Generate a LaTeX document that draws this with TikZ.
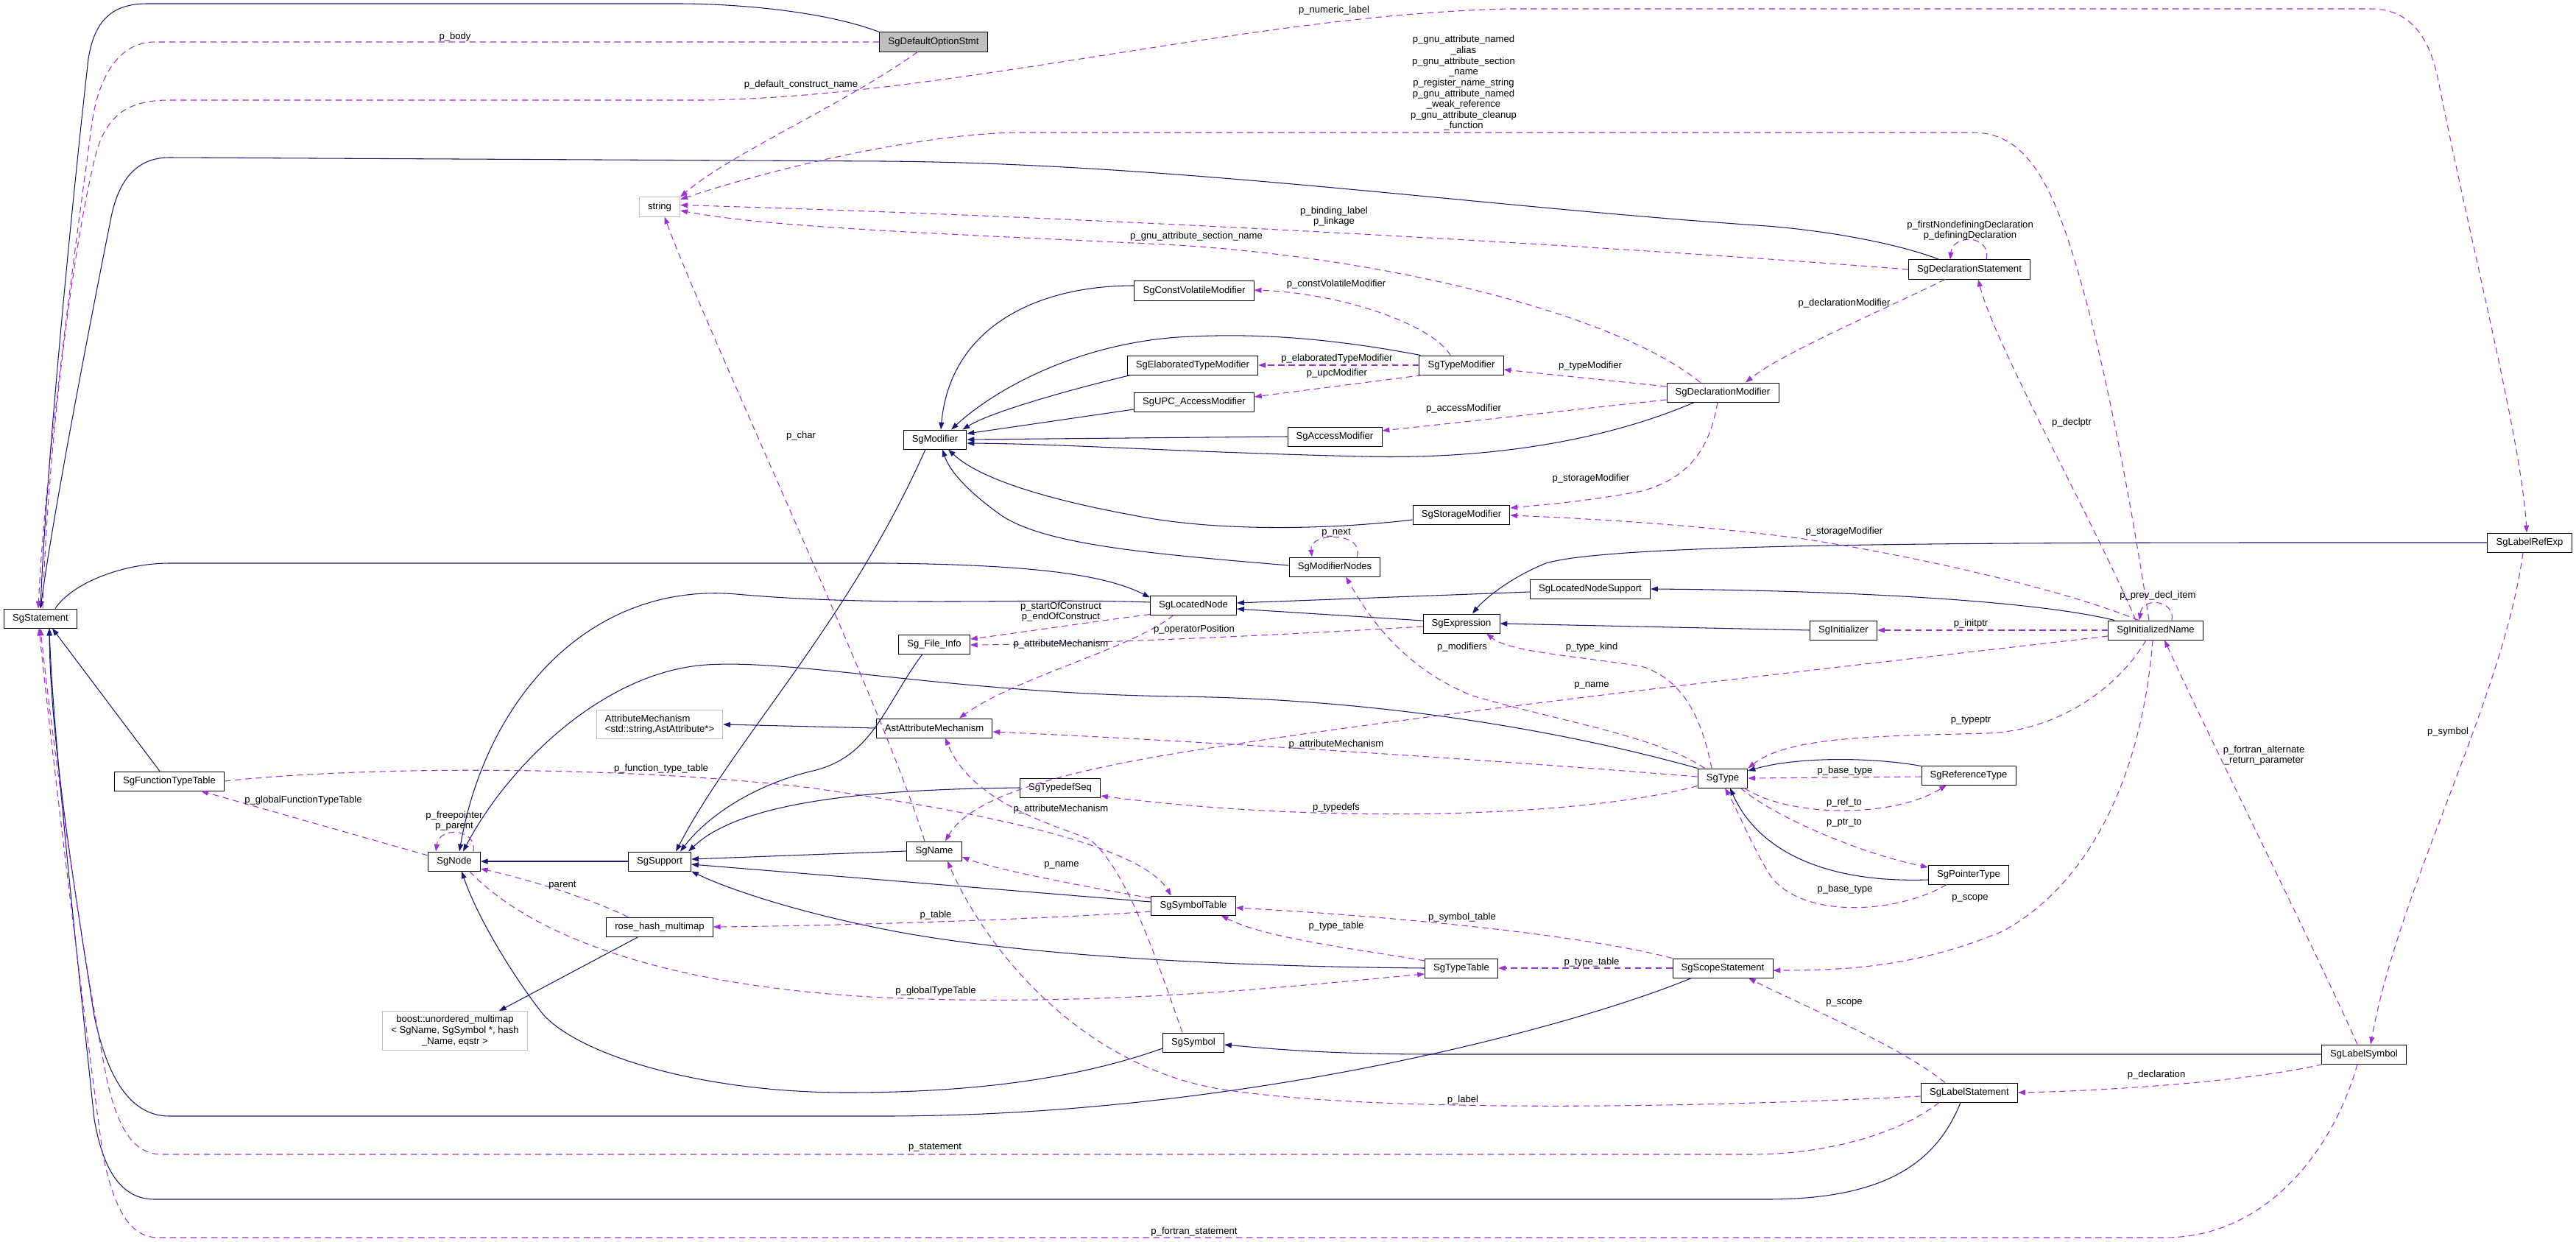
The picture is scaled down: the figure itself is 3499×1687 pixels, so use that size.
\documentclass[tikz,border=0pt]{standalone}
\usepackage{fontspec}
\setmainfont{Liberation Sans}
\usepackage{tikz}
\usetikzlibrary{arrows.meta,calc}
\definecolor{inhcol}{HTML}{191970}
\definecolor{depcol}{HTML}{9A32CD}
\newcommand\fsz{\fontsize{9.3}{10.4}\selectfont}

\begin{document}
\begin{tikzpicture}[x=0.025cm, y=-0.025cm,
    cls/.style={draw=black, fill=white, font=\fsz, inner xsep=8.3pt, inner ysep=2pt, minimum height=18.5pt, line width=0.7pt},
    ext/.style={cls, draw=black!25, align=left, inner ysep=4pt},
    root/.style={cls, fill=black!25},
    lbl/.style={font=\fsz, inner sep=0pt, align=center},
    inh/.style={draw=inhcol, line width=0.75pt, -{Triangle[length=7pt,width=5pt]}},
    dep/.style={draw=depcol, line width=0.75pt, dash pattern=on 6pt off 4pt, -{Triangle[length=7pt,width=5pt]}}]
    \path[use as bounding box, fill=white] (0,0) rectangle (3499,1687);
    % классы
    \node[root] (defopt) at (1268,57) {SgDefaultOptionStmt};
    \node[ext] (str) at (896,281) {string};
    \node[cls] (stmt) at (55,840) {SgStatement};
    \node[cls] (declstmt) at (2675,366) {SgDeclarationStatement};
    \node[cls] (cvmod) at (1622,395) {SgConstVolatileModifier};
    \node[cls] (elabmod) at (1620,496) {SgElaboratedTypeModifier};
    \node[cls] (upcmod) at (1622,546) {SgUPC\_AccessModifier};
    \node[cls] (typemod) at (1985,496) {SgTypeModifier};
    \node[cls] (declmod) at (2340,533) {SgDeclarationModifier};
    \node[cls] (modifier) at (1270,597) {SgModifier};
    \node[cls] (accmod) at (1813,593) {SgAccessModifier};
    \node[cls] (stormod) at (1985,699) {SgStorageModifier};
    \node[cls] (modnodes) at (1813,770) {SgModifierNodes};
    \node[cls] (locnode) at (1621,822) {SgLocatedNode};
    \node[cls] (locsup) at (2160,800) {SgLocatedNodeSupport};
    \node[cls] (expr) at (1985,847) {SgExpression};
    \node[cls] (fileinfo) at (1269,875) {Sg\_File\_Info};
    \node[cls] (astattr) at (1269,989) {AstAttributeMechanism};
    \node[ext] (attrmech) at (896,984) {AttributeMechanism\\<std::string,AstAttribute*>};
    \node[cls] (ftt) at (230,1061) {SgFunctionTypeTable};
    \node[cls] (sgnode) at (617,1170) {SgNode};
    \node[cls] (support) at (896,1170) {SgSupport};
    \node[cls] (sgname) at (1269,1156) {SgName};
    \node[cls] (typedefseq) at (1440,1070) {SgTypedefSeq};
    \node[cls] (symtab) at (1621,1230) {SgSymbolTable};
    \node[cls] (typetab) at (1985,1315) {SgTypeTable};
    \node[cls] (scope) at (2340,1315) {SgScopeStatement};
    \node[cls] (sgsymbol) at (1621,1416) {SgSymbol};
    \node[cls] (rosehash) at (896,1259) {rose\_hash\_multimap};
    \node[ext, align=center] (boostmap) at (618,1400) {boost::unordered\_multimap\\< SgName, SgSymbol *, hash\\\_Name, eqstr >};
    \node[cls] (sgtype) at (2340,1057) {SgType};
    \node[cls] (reftype) at (2674,1053) {SgReferenceType};
    \node[cls] (ptrtype) at (2674,1188) {SgPointerType};
    \node[cls] (initname) at (2928,856) {SgInitializedName};
    \node[cls] (initializer) at (2504,856) {SgInitializer};
    \node[cls] (labelref) at (3436,737) {SgLabelRefExp};
    \node[cls] (labelsym) at (3211,1432) {SgLabelSymbol};
    \node[cls] (labelstmt) at (2675,1484) {SgLabelStatement};
    % наследование
    \draw[inh] (defopt.north west) .. controls (1120,15) and (1000,5) .. (920,5) -- (200,5) .. controls (150,5) and (128,30) .. (120,80) .. controls (95,300) and (62,650) .. (stmt.north);
    \draw[inh] ($(declstmt.north west)+(42,0)$) .. controls (2590,335) and (2500,315) .. (2400,307) .. controls (2000,280) and (1600,222) .. (1200,219) -- (230,214) .. controls (185,214) and (160,245) .. (150,300) .. controls (120,450) and (72,700) .. (stmt.north);
    \draw[inh] ($(stmt.north east)+(-30,0)$) .. controls (100,790) and (170,765) .. (230,765) -- (1200,765) .. controls (1400,767) and (1500,780) .. ($(locnode.north west)+(0,3)$);
    \draw[inh] ($(ftt.north)+(-13,0)$) -- ($(stmt.south east)+(-34,0)$);
    \draw[inh] ($(scope.south west)+(26,0)$) .. controls (2150,1390) and (1700,1516) .. (1200,1516) -- (230,1516) .. controls (175,1516) and (145,1460) .. (128,1380) .. controls (100,1200) and (68,1000) .. ($(stmt.south)+(12,0)$);
    \draw[inh] ($(labelstmt.south)+(-12,0)$) .. controls (2630,1580) and (2560,1629) .. (2400,1629) -- (210,1629) .. controls (165,1629) and (140,1590) .. (128,1520) .. controls (105,1300) and (72,1000) .. ($(stmt.south)+(12,0)$);
    \draw[inh] ($(cvmod.west)+(0,-7)$) .. controls (1400,388) and (1290,450) .. ($(modifier.north)+(8,0)$);
    \draw[inh] ($(typemod.north west)+(2,0)$) .. controls (1800,458) and (1700,452) .. (1600,458) .. controls (1460,468) and (1350,530) .. ($(modifier.north)+(22,0)$);
    \draw[inh] ($(elabmod.south west)+(5,0)$) .. controls (1450,530) and (1345,560) .. ($(modifier.north east)+(-6,0)$);
    \draw[inh] ($(upcmod.west)+(0,10)$) -- ($(modifier.east)+(0,-8)$);
    \draw[inh] (accmod.west) -- (modifier.east);
    \draw[inh] ($(declmod.south west)+(38,0)$) .. controls (2200,590) and (2050,625) .. (1850,620) .. controls (1600,614) and (1450,603) .. ($(modifier.east)+(0,5)$);
    \draw[inh] ($(stormod.west)+(0,7)$) .. controls (1800,720) and (1650,722) .. (1540,700) .. controls (1420,678) and (1330,650) .. ($(modifier.south)+(18,0)$);
    \draw[inh] ($(modnodes.west)+(0,-2)$) .. controls (1560,752) and (1420,740) .. (1360,700) .. controls (1315,668) and (1290,640) .. ($(modifier.south)+(10,0)$);
    \draw[inh] ($(modifier.south)+(-13,0)$) .. controls (1150,850) and (1000,1000) .. ($(support.north)+(22,0)$);
    \draw[inh] ($(fileinfo.south)+(-16,0)$) .. controls (1200,960) and (1185,1030) .. (1100,1048) .. controls (1020,1068) and (960,1110) .. ($(support.north)+(28,0)$);
    \draw[inh] (typedefseq.west) .. controls (1200,1072) and (1010,1085) .. ($(support.north east)+(-4,0)$);
    \draw[inh] (astattr.west) -- (attrmech.east);
    \draw[inh] (sgname.west) -- ($(support.east)+(0,-3)$);
    \draw[inh] ($(symtab.west)+(0,-5)$) -- ($(support.east)+(0,4)$);
    \draw[inh] (typetab.west) .. controls (1600,1312) and (1350,1292) .. (1200,1262) .. controls (1080,1238) and (990,1208) .. (support.south east);
    \draw[inh] (support.west) -- (sgnode.east);
    \draw[inh] ($(locnode.west)+(0,-4)$) .. controls (1400,812) and (1200,825) .. (1000,807) .. controls (800,790) and (660,950) .. ($(sgnode.north)+(7,0)$);
    \draw[inh] (sgtype.north west) .. controls (2150,1000) and (1900,950) .. (1600,946) .. controls (1300,942) and (1080,895) .. (960,903) .. controls (820,912) and (690,1040) .. ($(sgnode.north)+(12,0)$);
    \draw[inh] ($(sgsymbol.west)+(0,8)$) .. controls (1450,1470) and (1300,1484) .. (1150,1484) .. controls (950,1484) and (785,1432) .. (737,1377) .. controls (700,1330) and (650,1250) .. ($(sgnode.south)+(10,0)$);
    \draw[inh] ($(rosehash.south west)+(44,0)$) -- ($(boostmap.north east)+(-39,0)$);
    \draw[inh] ($(expr.west)+(0,-4)$) -- ($(locnode.east)+(0,5)$);
    \draw[inh] ($(locsup.west)+(0,4)$) -- ($(locnode.east)+(0,-3)$);
    \draw[inh] ($(initname.north west)+(9,0)$) .. controls (2760,815) and (2500,802) .. (locsup.east);
    \draw[inh] (initializer.west) -- (expr.east);
    \draw[inh] (labelref.west) .. controls (2800,737) and (2200,735) .. (2100,765) .. controls (2050,785) and (2015,815) .. ($(expr.north)+(15,0)$);
    \draw[inh] ($(reftype.north west)+(0,1)$) .. controls (2540,1028) and (2440,1028) .. ($(sgtype.east)+(0,-10)$);
    \draw[inh] ($(ptrtype.west)+(0,7)$) .. controls (2470,1200) and (2385,1150) .. ($(sgtype.south)+(10,0)$);
    \draw[inh] (labelsym.west) -- (1950,1432) .. controls (1800,1432) and (1720,1424) .. ($(sgsymbol.east)+(0,3)$);
    % члены классов
    \draw[dep] (defopt.west) -- (210,57) .. controls (170,57) and (138,90) .. (126,160) .. controls (100,350) and (60,650) .. ($(stmt.north)+(-3,0)$);
    \draw[dep] ($(defopt.south west)+(52,0)$) .. controls (1150,140) and (990,210) .. (str.north east);
    \draw[dep] ($(stmt.north)+(3,0)$) .. controls (65,600) and (100,330) .. (130,210) .. controls (145,155) and (175,136) .. (230,136) -- (960,136) .. controls (1300,130) and (1700,20) .. (2050,12) -- (3220,12) .. controls (3280,12) and (3302,60) .. (3312,110) .. controls (3360,350) and (3425,600) .. ($(labelref.north)+(-4,0)$);
    \draw[dep] ($(initname.north)+(-9,0)$) .. controls (2890,650) and (2845,420) .. (2800,300) .. controls (2770,220) and (2735,180) .. (2680,180) -- (1390,180) .. controls (1250,180) and (1040,232) .. (str.20);
    \draw[dep] (declstmt.west) .. controls (2200,335) and (1500,295) .. (str.5);
    \draw[dep] ($(declmod.north west)+(46,0)$) .. controls (2200,430) and (1900,352) .. (1600,333) .. controls (1300,318) and (1050,310) .. (str.-10);
    \draw[dep] ($(sgname.north)+(-13,0)$) .. controls (1200,960) and (960,450) .. (str.-64);
    \draw[dep] ($(declstmt.north)+(23,0)$) .. controls (2705,318) and (2652,318) .. ($(declstmt.north)+(-26,0)$);
    \draw[dep] ($(declstmt.south)+(-33,0)$) .. controls (2560,420) and (2420,480) .. ($(declmod.north)+(31,0)$);
    \draw[dep] ($(typemod.north)+(-15,0)$) .. controls (1945,440) and (1820,398) .. ($(cvmod.east)+(0,-1)$);
    \draw[dep] (typemod.west) -- (elabmod.east);
    \draw[dep] ($(typemod.south west)+(5,0)$) -- ($(upcmod.east)+(0,-7)$);
    \draw[dep] ($(declmod.west)+(0,-8)$) -- ($(typemod.east)+(0,6)$);
    \draw[dep] ($(declmod.west)+(0,10)$) .. controls (2150,555) and (2000,572) .. ($(accmod.east)+(0,-8)$);
    \draw[dep] ($(declmod.south)+(-7,0)$) .. controls (2322,612) and (2292,650) .. (2230,667) .. controls (2150,682) and (2090,686) .. ($(stormod.east)+(0,-9)$);
    \draw[dep] ($(initname.north)+(-23,0)$) .. controls (2800,800) and (2600,755) .. (2450,732) .. controls (2300,712) and (2150,704) .. ($(stormod.east)+(0,1)$);
    \draw[dep] ($(modnodes.north)+(30,0)$) .. controls (1855,722) and (1778,722) .. ($(modnodes.north)+(-31,0)$);
    \draw[dep] ($(sgtype.north west)+(10,0)$) .. controls (2250,1000) and (2120,980) .. (2000,945) .. controls (1900,905) and (1855,830) .. ($(modnodes.south)+(15,0)$);
    \draw[dep] ($(sgtype.north)+(-15,0)$) .. controls (2312,980) and (2290,925) .. (2230,905) .. controls (2130,890) and (2050,885) .. ($(expr.south)+(34,0)$);
    \draw[dep] ($(initname.west)+(0,8)$) .. controls (2600,895) and (2000,960) .. (1650,1015) .. controls (1450,1045) and (1320,1080) .. ($(sgname.north)+(15,0)$);
    \draw[dep] ($(sgtype.west)+(0,-2)$) .. controls (2000,1030) and (1600,1005) .. ($(astattr.east)+(0,5)$);
    \draw[dep] ($(locnode.south west)+(0,-1)$) .. controls (1480,845) and (1380,860) .. ($(fileinfo.east)+(0,-7)$);
    \draw[dep] ($(expr.west)+(0,4)$) .. controls (1700,865) and (1450,875) .. ($(fileinfo.east)+(0,1)$);
    \draw[dep] ($(locnode.south)+(-27,0)$) .. controls (1540,880) and (1380,920) .. ($(astattr.north)+(34,0)$);
    \draw[dep] ($(sgtype.south west)+(0,-3)$) .. controls (2150,1110) and (1800,1120) .. ($(typedefseq.east)+(0,11)$);
    \draw[dep] ($(sgsymbol.north)+(-15,0)$) .. controls (1570,1300) and (1530,1180) .. (1480,1140) .. controls (1430,1120) and (1320,1090) .. ($(astattr.south)+(15,0)$);
    \draw[dep] (ftt.east) .. controls (500,1040) and (850,1040) .. (1100,1070) .. controls (1350,1105) and (1550,1150) .. ($(symtab.north)+(-30,0)$);
    \draw[dep] ($(symtab.west)+(0,-10)$) .. controls (1450,1200) and (1350,1180) .. ($(sgname.east)+(0,8)$);
    \draw[dep] ($(symtab.west)+(0,8)$) .. controls (1400,1250) and (1100,1258) .. (rosehash.east);
    \draw[dep] ($(typetab.west)+(0,-10)$) .. controls (1850,1290) and (1720,1275) .. ($(symtab.south east)+(-20,0)$);
    \draw[dep] (scope.north west) .. controls (2150,1270) and (1900,1245) .. ($(symtab.east)+(0,3)$);
    \draw[dep] (scope.west) -- (typetab.east);
    \draw[dep] ($(sgnode.south east)+(-15,0)$) .. controls (720,1270) and (900,1340) .. (1200,1355) .. controls (1500,1368) and (1750,1340) .. ($(typetab.west)+(0,8)$);
    \draw[dep] ($(rosehash.north west)+(30,0)$) .. controls (800,1220) and (720,1195) .. ($(sgnode.east)+(0,10)$);
    \draw[dep] ($(sgnode.west)+(0,-8)$) -- ($(ftt.south east)+(-32,0)$);
    \draw[dep] ($(sgnode.north)+(26,0)$) .. controls (648,1125) and (597,1122) .. ($(sgnode.north)+(-25,0)$);
    \draw[dep] ($(reftype.west)+(0,2)$) -- (sgtype.east);
    \draw[dep] ($(sgtype.south east)+(-5,0)$) .. controls (2430,1110) and (2570,1112) .. ($(reftype.south)+(-30,0)$);
    \draw[dep] ($(sgtype.south east)+(-10,0)$) .. controls (2410,1110) and (2530,1160) .. ($(ptrtype.west)+(0,-10)$);
    \draw[dep] ($(ptrtype.south)+(-30,0)$) .. controls (2580,1240) and (2450,1250) .. (2405,1190) .. controls (2380,1150) and (2360,1100) .. ($(sgtype.south)+(3,0)$);
    \draw[dep] ($(initname.south)+(-13,0)$) .. controls (2880,930) and (2800,992) .. (2700,996) .. controls (2550,1000) and (2430,1000) .. (sgtype.north east);
    \draw[dep] (initname.west) -- (initializer.east);
    \draw[dep] ($(initname.north)+(-27,0)$) .. controls (2850,720) and (2710,470) .. ($(declstmt.south)+(12,0)$);
    \draw[dep] ($(initname.north)+(22,0)$) .. controls (2955,815) and (2910,810) .. ($(initname.north)+(-22,0)$);
    \draw[dep] ($(initname.south)+(-4,0)$) .. controls (2910,1050) and (2840,1200) .. (2720,1265) .. controls (2600,1315) and (2500,1318) .. ($(scope.east)+(0,3)$);
    \draw[dep] ($(labelsym.north)+(-9,0)$) .. controls (3140,1280) and (3000,1000) .. ($(initname.south)+(12,0)$);
    \draw[dep] ($(labelref.south)+(-9,0)$) .. controls (3400,950) and (3260,1200) .. ($(labelsym.north)+(9,0)$);
    \draw[dep] ($(labelsym.south west)+(2,0)$) .. controls (3050,1470) and (2850,1482) .. (labelstmt.east);
    \draw[dep] ($(labelstmt.north)+(-33,0)$) .. controls (2580,1420) and (2440,1362) .. ($(scope.south)+(35,0)$);
    \draw[dep] ($(labelstmt.west)+(0,5)$) .. controls (2300,1505) and (1850,1512) .. (1650,1478) .. controls (1450,1440) and (1330,1270) .. ($(sgname.south)+(18,0)$);
    \draw[dep] ($(labelstmt.south west)+(25,0)$) .. controls (2580,1540) and (2480,1568) .. (2380,1568) -- (220,1568) .. controls (180,1568) and (160,1530) .. (146,1470) .. controls (112,1300) and (70,1000) .. (stmt.south);
    \draw[dep] ($(labelsym.south)+(-9,0)$) .. controls (3170,1560) and (3080,1681) .. (2940,1681) -- (215,1681) .. controls (175,1681) and (155,1640) .. (140,1570) .. controls (110,1350) and (68,1000) .. ($(stmt.south)+(-2,0)$);
    % подписи
    \node[lbl] (lbody) at (618,50) {p\_body};
    \node[lbl] (ldefname) at (1088,115) {p\_default\_construct\_name};
    \node[lbl] (lnumeric) at (1812,14) {p\_numeric\_label};
    \node[lbl] (lgnu) at (1988,113) {p\_gnu\_attribute\_named\\\_alias\\p\_gnu\_attribute\_section\\\_name\\p\_register\_name\_string\\p\_gnu\_attribute\_named\\\_weak\_reference\\p\_gnu\_attribute\_cleanup\\\_function};
    \node[lbl] (lbinding) at (1812,294) {p\_binding\_label\\p\_linkage};
    \node[lbl] (lsection) at (1625,321) {p\_gnu\_attribute\_section\_name};
    \node[lbl] (ldefining) at (2676,313) {p\_firstNondefiningDeclaration\\p\_definingDeclaration};
    \node[lbl] (ldeclmod) at (2505,412) {p\_declarationModifier};
    \node[lbl] (lcv) at (1815,386) {p\_constVolatileModifier};
    \node[lbl] (lelab) at (1816,487) {p\_elaboratedTypeModifier};
    \node[lbl] (lupc) at (1816,507) {p\_upcModifier};
    \node[lbl] (ltypemod) at (2160,497) {p\_typeModifier};
    \node[lbl] (lacc) at (1988,555) {p\_accessModifier};
    \node[lbl] (lstor) at (2161,650) {p\_storageModifier};
    \node[lbl] (lnext) at (1815,724) {p\_next};
    \node[lbl] (lchar) at (1088,592) {p\_char};
    \node[lbl] (ldeclptr) at (2814,574) {p\_declptr};
    \node[lbl] (lstor2) at (2505,722) {p\_storageModifier};
    \node[lbl] (lprev) at (2931,809) {p\_prev\_decl\_item};
    \node[lbl] (linit) at (2677,847) {p\_initptr};
    \node[lbl] (lconstruct) at (1441,831) {p\_startOfConstruct\\p\_endOfConstruct};
    \node[lbl] (loper) at (1622,855) {p\_operatorPosition};
    \node[lbl] (lattr1) at (1441,875) {p\_attributeMechanism};
    \node[lbl] (lmods) at (1986,879) {p\_modifiers};
    \node[lbl] (lkind) at (2162,879) {p\_type\_kind};
    \node[lbl] (lname1) at (2162,931) {p\_name};
    \node[lbl] (ltypeptr) at (2677,979) {p\_typeptr};
    \node[lbl] (lsymbol) at (3325,994) {p\_symbol};
    \node[lbl] (lalt) at (3075,1026) {p\_fortran\_alternate\\\_return\_parameter};
    \node[lbl] (lattr2) at (1815,1011) {p\_attributeMechanism};
    \node[lbl] (lftt) at (898,1044) {p\_function\_type\_table};
    \node[lbl] (lbase1) at (2506,1047) {p\_base\_type};
    \node[lbl] (lgftt) at (412,1087) {p\_globalFunctionTypeTable};
    \node[lbl] (lref) at (2505,1090) {p\_ref\_to};
    \node[lbl] (ltypedefs) at (1815,1097) {p\_typedefs};
    \node[lbl] (lattr3) at (1441,1099) {p\_attributeMechanism};
    \node[lbl] (lfree) at (617,1115) {p\_freepointer\\p\_parent};
    \node[lbl] (lptr) at (2505,1118) {p\_ptr\_to};
    \node[lbl] (lname2) at (1442,1175) {p\_name};
    \node[lbl] (lparent) at (764,1203) {parent};
    \node[lbl] (lbase2) at (2506,1208) {p\_base\_type};
    \node[lbl] (lscope1) at (2676,1220) {p\_scope};
    \node[lbl] (ltable) at (1271,1243) {p\_table};
    \node[lbl] (lsymtab) at (1986,1246) {p\_symbol\_table};
    \node[lbl] (ltypetab1) at (1815,1258) {p\_type\_table};
    \node[lbl] (ltypetab2) at (2162,1307) {p\_type\_table};
    \node[lbl] (lgtt) at (1271,1346) {p\_globalTypeTable};
    \node[lbl] (lscope2) at (2505,1362) {p\_scope};
    \node[lbl] (ldecl) at (2929,1460) {p\_declaration};
    \node[lbl] (llabel) at (1987,1494) {p\_label};
    \node[lbl] (lstatement) at (1270,1559) {p\_statement};
    \node[lbl] (lfortran) at (1622,1673) {p\_fortran\_statement};
\end{tikzpicture}
\end{document}
